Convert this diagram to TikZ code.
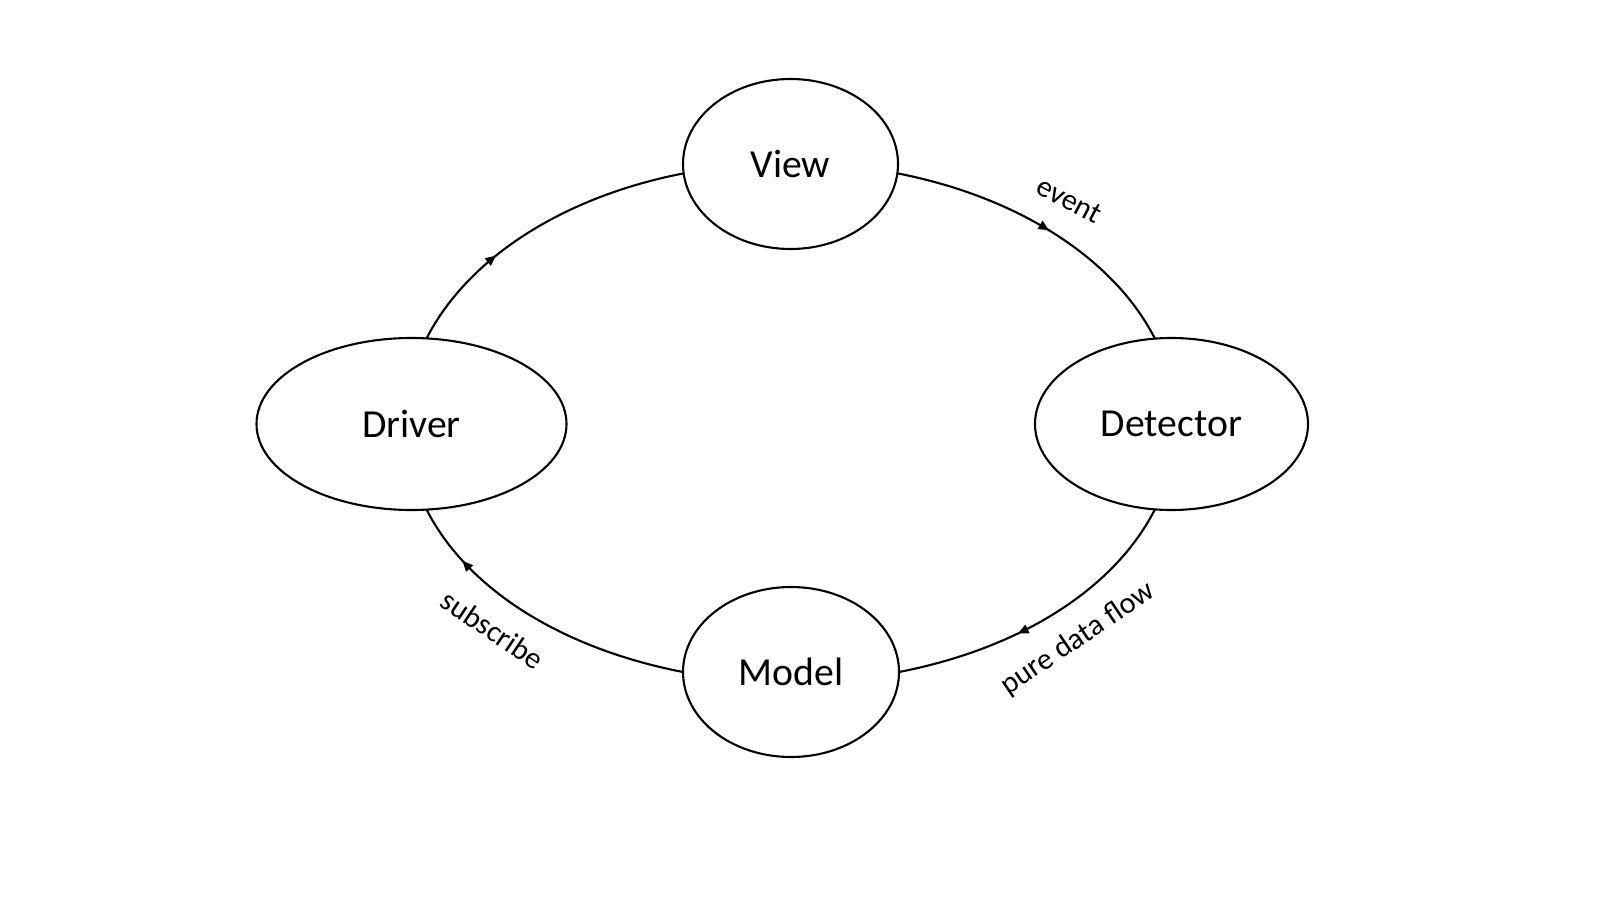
\documentclass[tikz,border=0pt]{standalone}
\usepackage{fontspec}
\setmainfont{Carlito}
\usetikzlibrary{arrows.meta,shapes.geometric,decorations.markings}
\definecolor{figline}{RGB}{0,0,0}
\tikzset{
  nd/.style  ={ellipse, draw=figline, line width=0.6pt, fill=white, inner sep=0pt, outer sep=0pt, font=\fontsize{11.3}{13}\selectfont},
  lab/.style ={font=\fontsize{8.6}{10}\selectfont, inner sep=1pt},
  ptr/.style ={draw=figline, line width=0.6pt, postaction={decorate},
    decoration={markings, mark=at position #1 with {\arrow{Triangle[length=3pt,width=2.6pt]}}}},
  ptr/.default=0.5,
}

\begin{document}
\begin{tikzpicture}
  \useasboundingbox (0,0) rectangle (16,9);
  \node[nd,minimum width=2.15cm,minimum height=1.70cm] (view)  at (7.905,7.36) {View};
  \node[nd,minimum width=3.10cm,minimum height=1.72cm] (drv)   at (4.115,4.76) {Driver};
  \node[nd,minimum width=2.73cm,minimum height=1.72cm] (det)   at (11.715,4.76) {Detector};
  \node[nd,minimum width=2.16cm,minimum height=1.70cm] (model) at (7.91,2.28) {Model};
  % the loop
  \draw[ptr=0.515] (view.-5) to[out=-11,in=117,out distance=1.23cm,in distance=0.9cm] (det.101);
  \draw[ptr=0.60] (det.-101) to[out=-117,in=11,out distance=0.9cm,in distance=1.23cm] (model.0);
  \draw[ptr=0.80] (model.180) to[out=169,in=-63,out distance=1.23cm,in distance=0.9cm] (drv.-80);
  \draw[ptr=0.345] (drv.80) to[out=63,in=-169,out distance=0.9cm,in distance=1.23cm] (view.185);
  % labels
  \node[lab,rotate=-28] (lev)  at (10.69,7.0) {event};
  \node[lab,rotate=34]  (lpdf) at (10.78,2.61) {pure data flow};
  \node[lab,rotate=-34] (lsub) at (4.925,2.705) {subscribe};
\end{tikzpicture}
\end{document}
